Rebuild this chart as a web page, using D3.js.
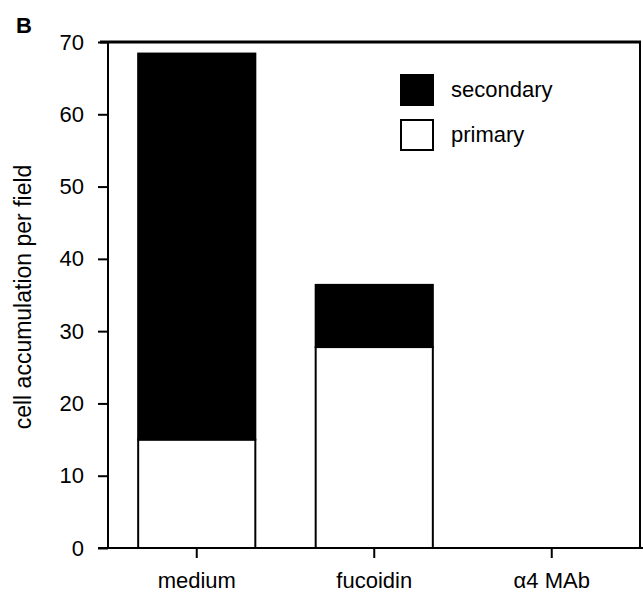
<!DOCTYPE html>
<html>
<head>
<meta charset="utf-8">
<script src="https://cdn.jsdelivr.net/npm/d3@7"></script>
<style>
  body { margin: 0; background: #fff; }
  text { font-family: "Liberation Sans", Arial, Helvetica, sans-serif; fill: #000; }
</style>
</head>
<body>
<div id="chart"></div>
<script>
// data
var categories = ["medium", "fucoidin", "\u03b14 MAb"];
var primary = [15, 27.8, 0];
var secondary = [53.4, 8.6, 0];
var yTicks = [0, 10, 20, 30, 40, 50, 60, 70];
var seriesNames = ["secondary", "primary"];

var width = 643, height = 592;
var margin = {top: 42, right: 2, bottom: 44, left: 108};

var svg = d3.select("#chart").append("svg")
    .attr("width", width)
    .attr("height", height);

var x = d3.scaleBand()
    .domain(categories)
    .range([margin.left, width - margin.right - 0.5])
    .paddingInner(0.34)
    .paddingOuter(0.17);

var y = d3.scaleLinear()
    .domain([0, 70])
    .range([height - margin.bottom, margin.top]);

var rows = categories.map(function(c, i) {
    return {cat: c, primary: primary[i], secondary: secondary[i]};
});
var stack = d3.stack().keys(["primary", "secondary"])(rows);

// bars
var fills = {primary: "#fff", secondary: "#000"};
stack.forEach(function(layer) {
    svg.append("g").selectAll("rect")
        .data(layer.filter(function(d) { return d[1] - d[0] > 0; }))
        .enter().append("rect")
        .attr("x", function(d) { return x(d.data.cat); })
        .attr("width", x.bandwidth())
        .attr("y", function(d) { return y(d[1]); })
        .attr("height", function(d) { return y(d[0]) - y(d[1]); })
        .attr("fill", fills[layer.key])
        .attr("stroke", "#000")
        .attr("stroke-width", 2);
});

// frame: top and right border
svg.append("line")
    .attr("x1", margin.left - 8).attr("x2", width - margin.right)
    .attr("y1", y(70)).attr("y2", y(70))
    .attr("stroke", "#000").attr("stroke-width", 3);
svg.append("line")
    .attr("x1", width - margin.right - 1).attr("x2", width - margin.right - 1)
    .attr("y1", y(70)).attr("y2", y(0))
    .attr("stroke", "#000").attr("stroke-width", 2);

// y axis
var yAxis = svg.append("g")
    .attr("transform", "translate(" + margin.left + ",0)")
    .call(d3.axisLeft(y).tickValues(yTicks).tickSize(10).tickPadding(14));

// x axis
var xAxis = svg.append("g")
    .attr("transform", "translate(0," + y(0) + ")")
    .call(d3.axisBottom(x).tickSize(10).tickPadding(14));

[yAxis, xAxis].forEach(function(ax) {
    ax.select(".domain").attr("stroke", "#000").attr("stroke-width", 2);
    ax.selectAll(".tick line").attr("stroke", "#000").attr("stroke-width", 2);
    ax.selectAll(".tick text").attr("font-size", 22).attr("font-family", null);
});
xAxis.select(".domain").attr("d", "M" + (margin.left - 10) + ",0H" + width);
yAxis.select(".domain").attr("d", "M0," + y(0) + "V" + y(70));

// y axis title
svg.append("text")
    .attr("transform", "translate(31," + ((y(0) + y(70)) / 2 + 2) + ") rotate(-90)")
    .attr("text-anchor", "middle")
    .attr("font-size", 23)
    .text("cell accumulation per field");

// panel letter
svg.append("text")
    .attr("x", 16).attr("y", 33)
    .attr("font-size", 22)
    .attr("font-weight", "bold")
    .text("B");

// legend
var legend = svg.append("g").attr("transform", "translate(401,75)");
var item = legend.selectAll("g")
    .data(seriesNames)
    .enter().append("g")
    .attr("transform", function(d, i) { return "translate(0," + i * 45 + ")"; });
item.append("rect")
    .attr("width", 32).attr("height", 30)
    .attr("fill", function(d) { return fills[d]; })
    .attr("stroke", "#000").attr("stroke-width", 2);
item.append("text")
    .attr("x", 50).attr("y", 22)
    .attr("font-size", 22)
    .text(function(d) { return d; });
</script>
</body>
</html>
